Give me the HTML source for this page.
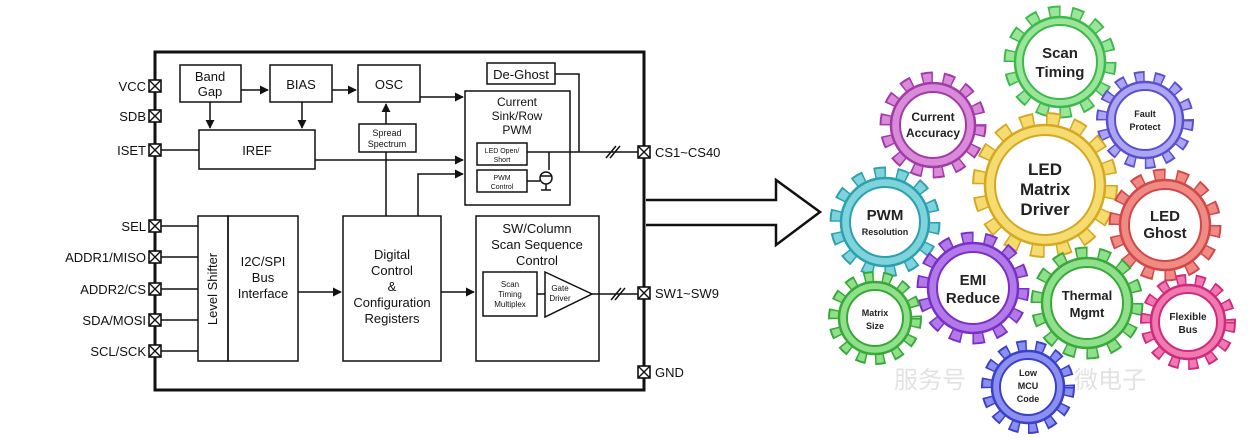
<!DOCTYPE html>
<html><head><meta charset="utf-8"><style>
html,body{margin:0;padding:0;background:#fff;}
svg{display:block;font-family:"Liberation Sans","Noto Sans CJK SC",sans-serif;}
</style></head><body>
<svg width="1252" height="440" viewBox="0 0 1252 440" xmlns="http://www.w3.org/2000/svg">
<defs>
<marker id="a" viewBox="0 0 10 10" refX="9" refY="5" markerWidth="6" markerHeight="6" orient="auto"><path d="M0,0L10,5L0,10z" fill="#111"/></marker>
<g id="pin"><rect x="-6" y="-6" width="12" height="12" fill="#fff" stroke="#111" stroke-width="1.6"/><path d="M-6,-6L6,6M6,-6L-6,6" stroke="#111" stroke-width="1.4"/></g>
</defs>
<g fill="none" stroke="#111" stroke-width="1.5">
<rect x="155" y="52" width="489" height="338" stroke-width="3"/>
<rect x="180" y="65" width="61" height="37"/>
<rect x="270" y="65" width="62" height="37"/>
<rect x="358" y="65" width="62" height="37"/>
<rect x="487" y="63" width="68" height="21"/>
<rect x="465" y="91" width="105" height="114"/>
<rect x="199" y="130" width="116" height="39"/>
<rect x="359" y="124" width="57" height="28"/>
<rect x="477" y="143" width="50" height="22"/>
<rect x="477" y="170" width="50" height="22"/>
<rect x="198" y="216" width="30" height="145"/>
<rect x="228" y="216" width="70" height="145"/>
<rect x="343" y="216" width="98" height="145"/>
<rect x="476" y="216" width="123" height="145"/>
<rect x="483" y="272" width="54" height="44"/>
<path d="M545,272L592,294L545,317z"/>
<path d="M241,90H268" marker-end="url(#a)"/>
<path d="M332,90H356" marker-end="url(#a)"/>
<path d="M210,102V128" marker-end="url(#a)"/>
<path d="M302,102V128" marker-end="url(#a)"/>
<path d="M420,97H463" marker-end="url(#a)"/>
<path d="M315,160H463" marker-end="url(#a)"/>
<path d="M418,216V174H463" marker-end="url(#a)"/>
<path d="M386,216V152"/>
<path d="M386,124V104" marker-end="url(#a)"/>
<path d="M161,150H199"/>
<path d="M555,74H579V152"/>
<path d="M527,152H638"/>
<path d="M549,152V170"/>
<path d="M527,181H540"/>
<circle cx="546" cy="178" r="6"/>
<path d="M540,176H552M546,184V190M541,190H551"/>
<path d="M606,158L616,146M610,158L620,146"/>
<path d="M161,226H198M161,257H198M161,289H198M161,320H198M161,351H198"/>
<path d="M298,292H341" marker-end="url(#a)"/>
<path d="M441,292H474" marker-end="url(#a)"/>
<path d="M537,294H545"/>
<path d="M592,294H638"/>
<path d="M611,300L621,288M615,300L625,288"/>
</g>
<g font-size="13" fill="#111" text-anchor="middle">
<text x="210" y="81">Band</text><text x="210" y="96">Gap</text>
<text x="301" y="89">BIAS</text>
<text x="389" y="89">OSC</text>
<text x="521" y="79">De-Ghost</text>
<text x="517" y="106" font-size="12">Current</text><text x="517" y="120" font-size="12">Sink/Row</text><text x="517" y="134" font-size="12">PWM</text>
<text x="257" y="155">IREF</text>
<text x="387" y="136" font-size="9">Spread</text><text x="387" y="147" font-size="9">Spectrum</text>
<text x="502" y="153" font-size="7">LED Open/</text><text x="502" y="162" font-size="7">Short</text>
<text x="502" y="180" font-size="7">PWM</text><text x="502" y="189" font-size="7">Control</text>
<text x="263" y="266">I2C/SPI</text><text x="263" y="282">Bus</text><text x="263" y="298">Interface</text>
<text x="392" y="259">Digital</text><text x="392" y="275">Control</text><text x="392" y="291">&amp;</text><text x="392" y="307">Configuration</text><text x="392" y="323">Registers</text>
<text x="537" y="233">SW/Column</text><text x="537" y="249">Scan Sequence</text><text x="537" y="265">Control</text>
<text x="510" y="287" font-size="8">Scan</text><text x="510" y="297" font-size="8">Timing</text><text x="510" y="307" font-size="8">Multiplex</text>
<text x="560" y="291" font-size="8">Gate</text><text x="560" y="301" font-size="8">Driver</text>
<text transform="translate(217,289) rotate(-90)" font-size="13">Level Shifter</text>
</g>
<g font-size="13" fill="#111" text-anchor="end">
<text x="146" y="91">VCC</text><text x="146" y="121">SDB</text><text x="146" y="155">ISET</text>
<text x="146" y="231">SEL</text><text x="146" y="262">ADDR1/MISO</text><text x="146" y="294">ADDR2/CS</text>
<text x="146" y="325">SDA/MOSI</text><text x="146" y="356">SCL/SCK</text>
</g>
<g font-size="13" fill="#111"><text x="655" y="157">CS1~CS40</text><text x="655" y="298">SW1~SW9</text><text x="655" y="377">GND</text></g>
<use href="#pin" x="155" y="86"/><use href="#pin" x="155" y="116"/><use href="#pin" x="155" y="150"/>
<use href="#pin" x="155" y="226"/><use href="#pin" x="155" y="257"/><use href="#pin" x="155" y="289"/>
<use href="#pin" x="155" y="320"/><use href="#pin" x="155" y="351"/>
<use href="#pin" x="644" y="152"/><use href="#pin" x="644" y="293"/><use href="#pin" x="644" y="372"/>
<path d="M646,200H776V180L820,212L776,245V225H646" fill="#fff" stroke="#111" stroke-width="2.5"/>
<text x="930" y="388" font-size="24" fill="#e2e2e2" text-anchor="middle">服务号</text>
<text x="1110" y="388" font-size="24" fill="#e2e2e2" text-anchor="middle">微电子</text>
<g text-anchor="middle" font-weight="bold" fill="#222">
<g><circle cx="1060" cy="62" r="50" fill="none" stroke="#3cb94a" stroke-width="13" stroke-dasharray="11.8 10.6"/><circle cx="1060" cy="62" r="50" fill="none" stroke="#9be59b" stroke-width="9" stroke-dasharray="8.8 13.6" stroke-dashoffset="-1.5"/><circle cx="1060" cy="62" r="45" fill="#9be59b" stroke="#3cb94a" stroke-width="2.5"/><circle cx="1060" cy="62" r="37" fill="#fff" stroke="#3cb94a" stroke-width="2"/><text x="1060" y="58" font-size="15">Scan</text><text x="1060" y="77" font-size="15">Timing</text></g>
<g><circle cx="933" cy="125" r="47" fill="none" stroke="#a23aa8" stroke-width="13" stroke-dasharray="11 10"/><circle cx="933" cy="125" r="47" fill="none" stroke="#d98ad8" stroke-width="9" stroke-dasharray="8 13" stroke-dashoffset="-1.5"/><circle cx="933" cy="125" r="42" fill="#d98ad8" stroke="#a23aa8" stroke-width="2.5"/><circle cx="933" cy="125" r="33" fill="#fff" stroke="#a23aa8" stroke-width="2"/><text x="933" y="121" font-size="12">Current</text><text x="933" y="137" font-size="12">Accuracy</text></g>
<g><circle cx="1145" cy="120" r="43" fill="none" stroke="#5a4fd0" stroke-width="12" stroke-dasharray="10 9.2"/><circle cx="1145" cy="120" r="43" fill="none" stroke="#aca6f2" stroke-width="8" stroke-dasharray="7 12.2" stroke-dashoffset="-1.5"/><circle cx="1145" cy="120" r="38" fill="#aca6f2" stroke="#5a4fd0" stroke-width="2.5"/><circle cx="1145" cy="120" r="30" fill="#fff" stroke="#5a4fd0" stroke-width="2"/><text x="1145" y="117" font-size="9">Fault</text><text x="1145" y="130" font-size="9">Protect</text></g>
<g><circle cx="1045" cy="185" r="66" fill="none" stroke="#d4a820" stroke-width="14" stroke-dasharray="14 12"/><circle cx="1045" cy="185" r="66" fill="none" stroke="#f6dc70" stroke-width="10" stroke-dasharray="11 15" stroke-dashoffset="-1.5"/><circle cx="1045" cy="185" r="60" fill="#f6dc70" stroke="#d4a820" stroke-width="2.5"/><circle cx="1045" cy="185" r="50" fill="#fff" stroke="#d4a820" stroke-width="2"/><text x="1045" y="175" font-size="17">LED</text><text x="1045" y="195" font-size="17">Matrix</text><text x="1045" y="215" font-size="17">Driver</text></g>
<g><circle cx="885" cy="222" r="49" fill="none" stroke="#2aa0b0" stroke-width="13" stroke-dasharray="11.5 10.5"/><circle cx="885" cy="222" r="49" fill="none" stroke="#7fd4dc" stroke-width="9" stroke-dasharray="8.5 13.5" stroke-dashoffset="-1.5"/><circle cx="885" cy="222" r="44" fill="#7fd4dc" stroke="#2aa0b0" stroke-width="2.5"/><circle cx="885" cy="222" r="35" fill="#fff" stroke="#2aa0b0" stroke-width="2"/><text x="885" y="220" font-size="15">PWM</text><text x="885" y="235" font-size="9">Resolution</text></g>
<g><circle cx="1165" cy="225" r="50" fill="none" stroke="#d04848" stroke-width="13" stroke-dasharray="11.8 10.6"/><circle cx="1165" cy="225" r="50" fill="none" stroke="#f08a85" stroke-width="9" stroke-dasharray="8.8 13.6" stroke-dashoffset="-1.5"/><circle cx="1165" cy="225" r="45" fill="#f08a85" stroke="#d04848" stroke-width="2.5"/><circle cx="1165" cy="225" r="36" fill="#fff" stroke="#d04848" stroke-width="2"/><text x="1165" y="221" font-size="15">LED</text><text x="1165" y="238" font-size="15">Ghost</text></g>
<g><circle cx="973" cy="288" r="50" fill="none" stroke="#7a2fc8" stroke-width="13" stroke-dasharray="11.8 10.6"/><circle cx="973" cy="288" r="50" fill="none" stroke="#b27ae8" stroke-width="9" stroke-dasharray="8.8 13.6" stroke-dashoffset="-1.5"/><circle cx="973" cy="288" r="45" fill="#b27ae8" stroke="#7a2fc8" stroke-width="2.5"/><circle cx="973" cy="288" r="36" fill="#fff" stroke="#7a2fc8" stroke-width="2"/><text x="973" y="285" font-size="15">EMI</text><text x="973" y="303" font-size="15">Reduce</text></g>
<g><circle cx="875" cy="318" r="41" fill="none" stroke="#38a838" stroke-width="12" stroke-dasharray="9.7 8.5"/><circle cx="875" cy="318" r="41" fill="none" stroke="#8fe088" stroke-width="8" stroke-dasharray="6.7 11.5" stroke-dashoffset="-1.5"/><circle cx="875" cy="318" r="36" fill="#8fe088" stroke="#38a838" stroke-width="2.5"/><circle cx="875" cy="318" r="28" fill="#fff" stroke="#38a838" stroke-width="2"/><text x="875" y="316" font-size="9">Matrix</text><text x="875" y="329" font-size="9">Size</text></g>
<g><circle cx="1087" cy="303" r="50" fill="none" stroke="#3aa83a" stroke-width="13" stroke-dasharray="11.8 10.6"/><circle cx="1087" cy="303" r="50" fill="none" stroke="#8fe08a" stroke-width="9" stroke-dasharray="8.8 13.6" stroke-dashoffset="-1.5"/><circle cx="1087" cy="303" r="45" fill="#8fe08a" stroke="#3aa83a" stroke-width="2.5"/><circle cx="1087" cy="303" r="36" fill="#fff" stroke="#3aa83a" stroke-width="2"/><text x="1087" y="300" font-size="13">Thermal</text><text x="1087" y="317" font-size="13">Mgmt</text></g>
<g><circle cx="1188" cy="322" r="42" fill="none" stroke="#d02a80" stroke-width="12" stroke-dasharray="9.9 8.7"/><circle cx="1188" cy="322" r="42" fill="none" stroke="#f07ab0" stroke-width="8" stroke-dasharray="6.9 11.7" stroke-dashoffset="-1.5"/><circle cx="1188" cy="322" r="37" fill="#f07ab0" stroke="#d02a80" stroke-width="2.5"/><circle cx="1188" cy="322" r="29" fill="#fff" stroke="#d02a80" stroke-width="2"/><text x="1188" y="320" font-size="10">Flexible</text><text x="1188" y="333" font-size="10">Bus</text></g>
<g><circle cx="1028" cy="387" r="41" fill="none" stroke="#3a40c8" stroke-width="12" stroke-dasharray="9.7 8.5"/><circle cx="1028" cy="387" r="41" fill="none" stroke="#8a8ff0" stroke-width="8" stroke-dasharray="6.7 11.5" stroke-dashoffset="-1.5"/><circle cx="1028" cy="387" r="36" fill="#8a8ff0" stroke="#3a40c8" stroke-width="2.5"/><circle cx="1028" cy="387" r="28" fill="#fff" stroke="#3a40c8" stroke-width="2"/><text x="1028" y="376" font-size="9">Low</text><text x="1028" y="389" font-size="9">MCU</text><text x="1028" y="402" font-size="9">Code</text></g>
</g>
</svg>
</body></html>
